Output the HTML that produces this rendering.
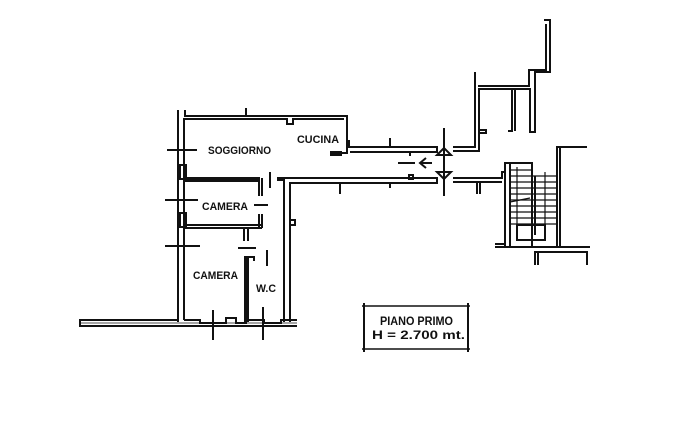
<!DOCTYPE html>
<html><head><style>
html,body{margin:0;padding:0;background:#fff;}
svg{display:block;}
text{font-family:"Liberation Sans",sans-serif;font-weight:bold;fill:#111;}
</style></head><body>
<svg width="683" height="425" viewBox="0 0 683 425" xmlns="http://www.w3.org/2000/svg">
<rect width="683" height="425" fill="#fff"/>
<g fill="none" stroke="#111" stroke-width="2">
<line x1="178" y1="110" x2="178" y2="322"/>
<line x1="184" y1="118" x2="184" y2="320"/>
<rect x="180" y="165" width="6" height="14"/>
<rect x="180" y="213" width="6" height="14"/>
<polyline points="185,110 185,116 347,116 347,153 339,153"/>
<polyline points="185,119 287,119 287,124 293,124 293,119 344,119"/>
<line x1="246" y1="108" x2="246" y2="116"/>
<rect x="331" y="152" width="10" height="3" fill="#111"/>
<polyline points="349,140 349,147 437,147 437,152 350,152"/>
<line x1="390" y1="138" x2="390" y2="147"/>
<line x1="410" y1="152" x2="410" y2="156"/>
<polyline points="277,178 437,178 437,183 290,183 290,322"/>
<polyline points="277,180 284,180 284,322"/>
<rect x="409" y="175" width="4" height="4"/>
<line x1="340" y1="183" x2="340" y2="194"/>
<line x1="390" y1="183" x2="390" y2="188"/>
<rect x="290" y="220" width="5" height="5"/>
<rect x="185" y="178" width="74" height="3" fill="#111"/>
<line x1="259" y1="178" x2="259" y2="196"/>
<line x1="262" y1="178" x2="262" y2="196"/>
<line x1="259" y1="214" x2="259" y2="228"/>
<line x1="262" y1="214" x2="262" y2="228"/>
<line x1="185" y1="225" x2="262" y2="225"/>
<line x1="185" y1="228" x2="262" y2="228"/>
<line x1="244" y1="228" x2="244" y2="241"/>
<line x1="248" y1="228" x2="248" y2="241"/>
<line x1="270" y1="172" x2="270" y2="188"/>
<line x1="254" y1="205" x2="268" y2="205"/>
<line x1="238" y1="248" x2="256" y2="248"/>
<line x1="267" y1="250" x2="267" y2="266"/>
<rect x="245" y="257" width="3" height="64" fill="#111"/>
<polyline points="245,257 254,257 254,261"/>
<polyline points="184,320 200,320 200,323 226,323 226,318 236,318 236,323 246,323 246,320 264,320 264,323 281,323 281,320 297,320"/>
<polyline points="178,320 80,320 80,326 297,326"/>
<line x1="80" y1="323" x2="297" y2="323" stroke-width="0.8"/>
<polyline points="453,147 475,147 475,72"/>
<polyline points="453,151 479,151 479,130 486,130 486,133 479,133 479,89 530,89 530,132 535,132 535,72 550,72 550,20 544,20"/>
<polyline points="478,86 529,86 529,70 546,70 546,24"/>
<polyline points="512,89 512,131 508,131"/>
<line x1="515" y1="89" x2="515" y2="131"/>
<polyline points="453,178 502,178 502,172 505,172"/>
<polyline points="453,182 502,182"/>
<line x1="477" y1="182" x2="477" y2="194"/>
<line x1="480" y1="182" x2="480" y2="194"/>
<rect x="505" y="163" width="27" height="84"/>
<line x1="510" y1="163" x2="510" y2="247"/>
<g stroke-width="1.2">
<line x1="510" y1="170" x2="532" y2="170"/><line x1="510" y1="176" x2="532" y2="176"/>
<line x1="510" y1="182" x2="532" y2="182"/><line x1="510" y1="188" x2="532" y2="188"/>
<line x1="510" y1="194" x2="532" y2="194"/><line x1="510" y1="200" x2="532" y2="200"/>
<line x1="510" y1="206" x2="532" y2="206"/><line x1="510" y1="212" x2="532" y2="212"/>
<line x1="510" y1="218" x2="532" y2="218"/><line x1="510" y1="224" x2="532" y2="224"/>
<line x1="532" y1="176" x2="557" y2="176"/><line x1="532" y1="182" x2="557" y2="182"/>
<line x1="532" y1="188" x2="557" y2="188"/><line x1="532" y1="194" x2="557" y2="194"/>
<line x1="532" y1="200" x2="557" y2="200"/><line x1="532" y1="206" x2="557" y2="206"/>
<line x1="532" y1="212" x2="557" y2="212"/><line x1="532" y1="218" x2="557" y2="218"/>
<line x1="532" y1="224" x2="557" y2="224"/>
<line x1="517" y1="167" x2="517" y2="228"/>
<line x1="545" y1="172" x2="545" y2="240"/>
<line x1="510" y1="202" x2="530" y2="198"/>
</g>
<line x1="535" y1="176" x2="535" y2="235"/>
<rect x="517" y="225" width="28" height="15"/>
<polyline points="557,247 557,147 587,147"/>
<line x1="560" y1="148" x2="560" y2="247"/>
<polyline points="495,247 590,247"/>
<polyline points="495,244 505,244"/>
<polyline points="535,265 535,252 587,252 587,265"/>
<line x1="538" y1="252" x2="538" y2="265"/>
<line x1="444" y1="128" x2="444" y2="196"/>
<path d="M437,155 L444,148 L451,155 Z"/>
<path d="M437,172 L444,179 L451,172 Z"/>
<line x1="398" y1="163" x2="415" y2="163"/>
<path d="M426,158 L420,163 L426,168 M420,163 L432,163"/>
<line x1="167" y1="150" x2="197" y2="150"/>
<line x1="165" y1="200" x2="198" y2="200"/>
<line x1="165" y1="246" x2="200" y2="246"/>
<line x1="213" y1="310" x2="213" y2="340"/>
<line x1="263" y1="307" x2="263" y2="340"/>
<line x1="364" y1="303" x2="364" y2="352"/>
<line x1="468" y1="303" x2="468" y2="352"/>
<line x1="362" y1="306" x2="470" y2="306" stroke-width="1.4"/>
<line x1="362" y1="349" x2="470" y2="349" stroke-width="1.4"/>
</g>
<text x="208" y="154" font-size="11" textLength="63" lengthAdjust="spacingAndGlyphs">SOGGIORNO</text>
<text x="297" y="143" font-size="11" textLength="42" lengthAdjust="spacingAndGlyphs">CUCINA</text>
<text x="202" y="210" font-size="11" textLength="46" lengthAdjust="spacingAndGlyphs">CAMERA</text>
<text x="193" y="279" font-size="11" textLength="45" lengthAdjust="spacingAndGlyphs">CAMERA</text>
<text x="256" y="292" font-size="11" textLength="20" lengthAdjust="spacingAndGlyphs">W.C</text>
<text x="380" y="325" font-size="11.5" textLength="73" lengthAdjust="spacingAndGlyphs">PIANO  PRIMO</text>
<text x="372" y="339" font-size="11.5" textLength="93" lengthAdjust="spacingAndGlyphs">H  =  2.700  mt.</text>
</svg>
</body></html>
